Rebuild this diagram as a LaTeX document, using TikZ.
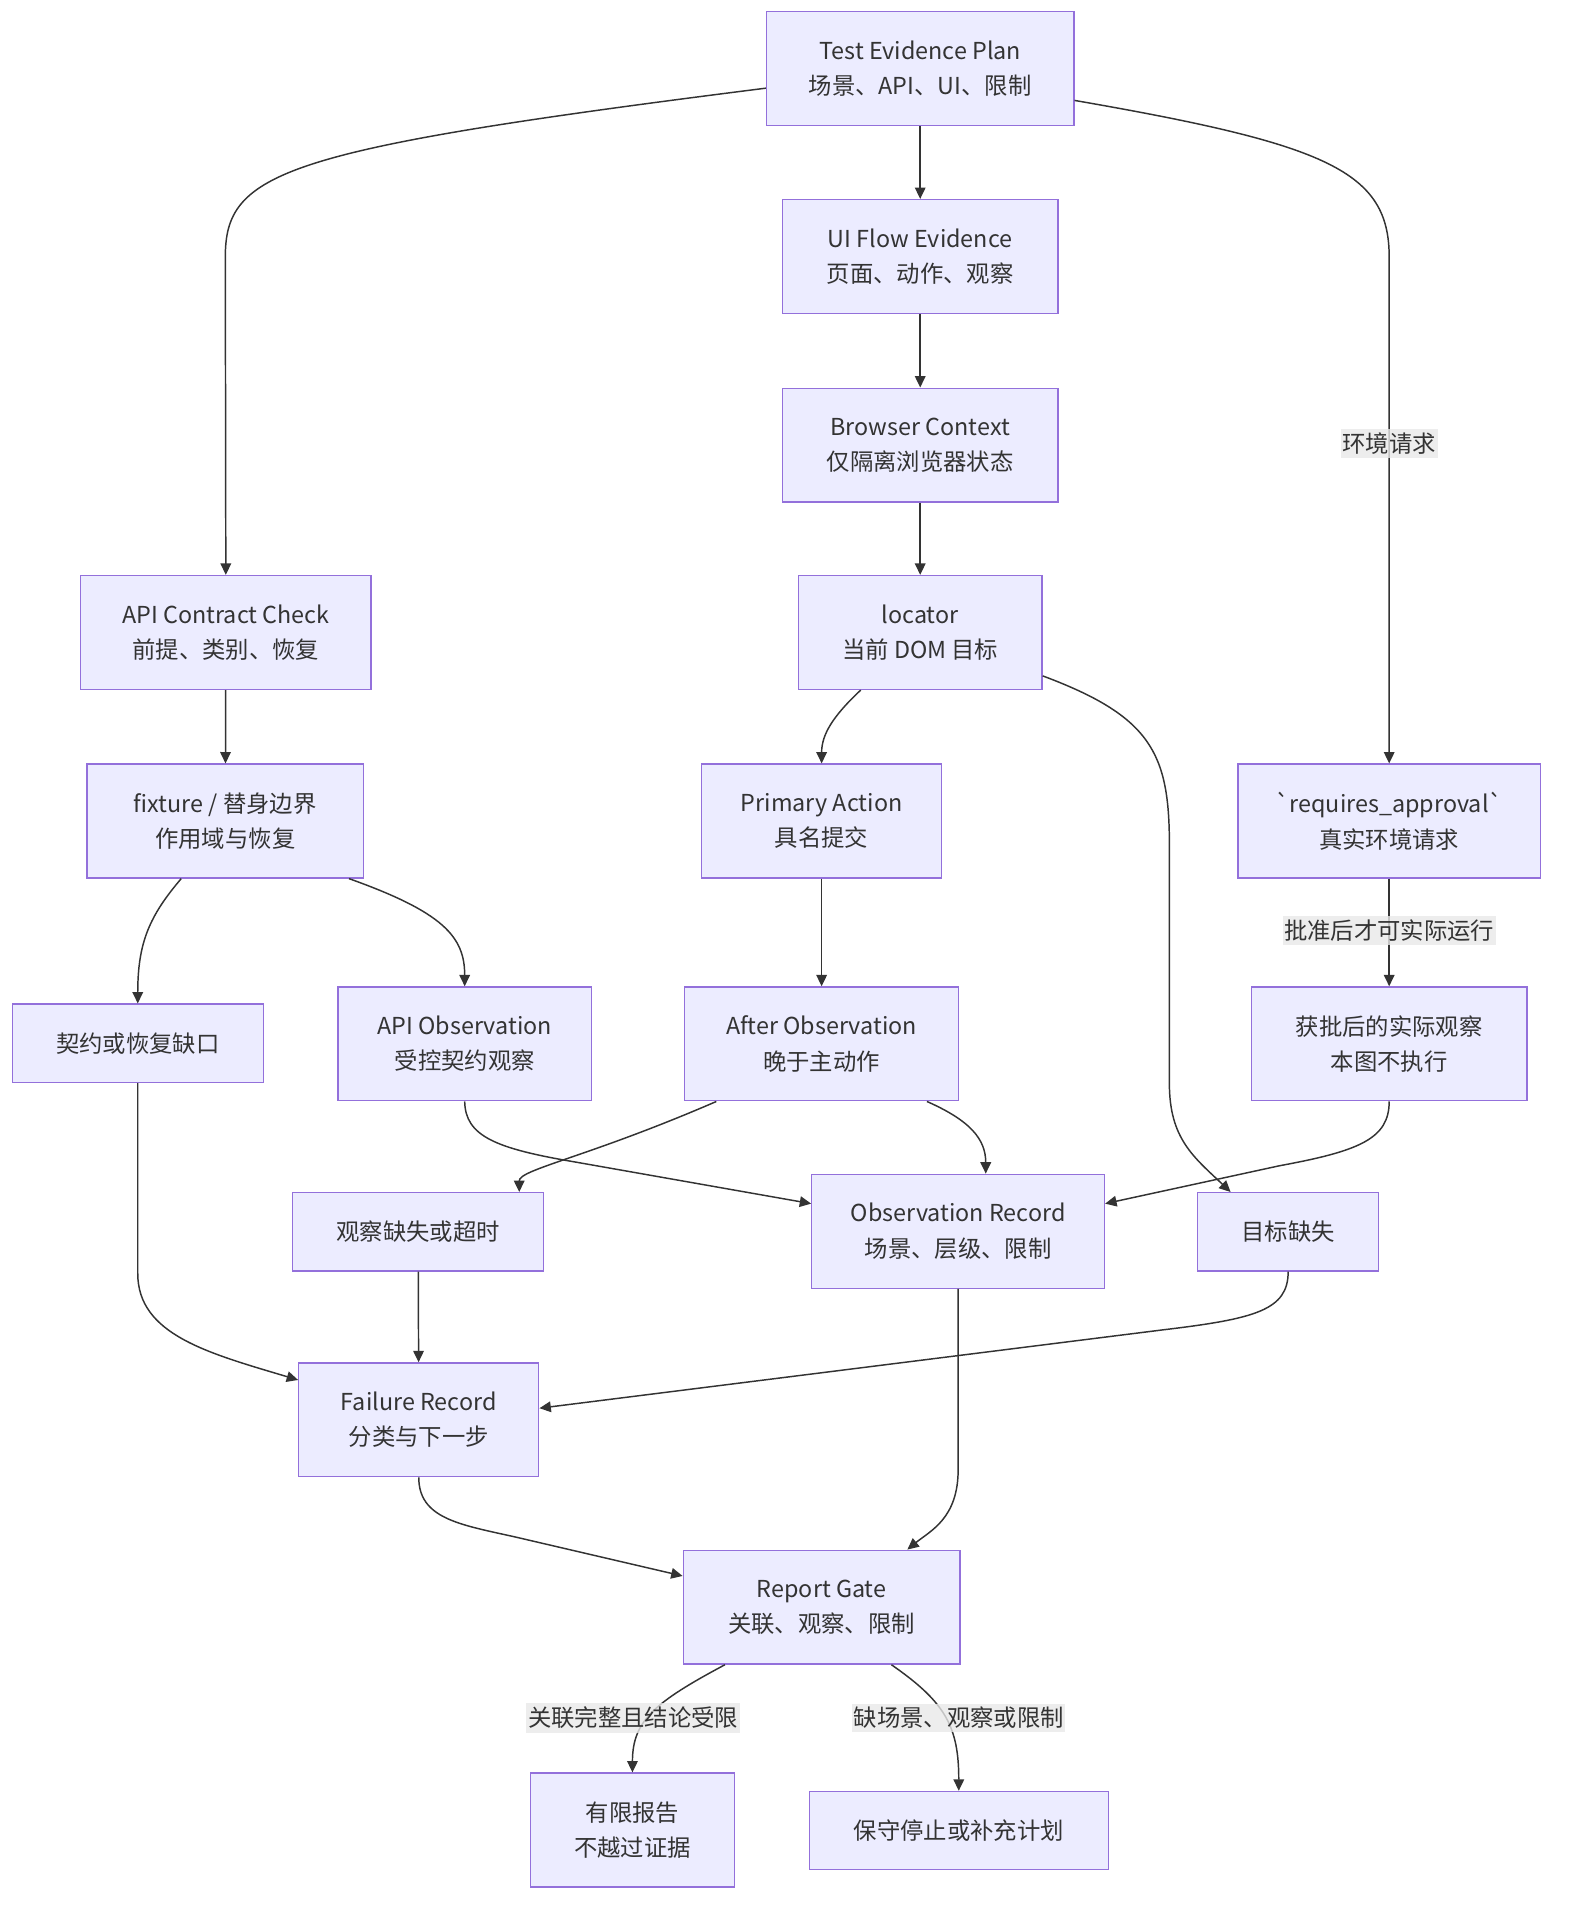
\documentclass[tikz,border=0pt]{standalone}
\usepackage{fontspec}
\setmainfont{Noto Sans CJK SC}
\usetikzlibrary{arrows.meta}
\definecolor{boxfill}{HTML}{ECECFF}
\definecolor{boxline}{HTML}{9370DB}
\definecolor{edgecol}{HTML}{333333}
\definecolor{lblfill}{HTML}{E8E8E8}

\begin{document}
\begin{tikzpicture}[x=0.75pt, y=-0.75pt,
			font=\fontsize{14.3}{21.75}\selectfont, text=edgecol,
			box/.style={draw=boxline, fill=boxfill, line width=0.8pt, align=center, minimum height=69.75pt, inner sep=0pt},
			flat/.style={box, minimum height=48pt},
			link/.style={draw=edgecol, line width=0.9pt, -{Triangle[length=7pt,width=6.5pt]}},
			lbl/.style={fill=lblfill, fill opacity=0.8, text opacity=1, inner xsep=1pt, inner ysep=2.25pt}]
			\useasboundingbox (0,0) rectangle (1281,1568);
			% nodes
			\node[box, minimum width=188.25pt] (plan) at (751.5,56) {Test Evidence Plan\\场景、API、UI、限制};
			\node[box, minimum width=168.75pt] (ui) at (751.5,209.5) {UI Flow Evidence\\页面、动作、观察};
			\node[box, minimum width=168.75pt] (browser) at (751.5,363.5) {Browser Context\\仅隔离浏览器状态};
			\node[box, minimum width=149.25pt] (locator) at (751.5,516.5) {locator\\当前 DOM 目标};
			\node[box, minimum width=177.75pt] (api) at (184.5,516.5) {API Contract Check\\前提、类别、恢复};
			\node[box, minimum width=169.5pt] (fixture) at (184,670.5) {fixture / 替身边界\\作用域与恢复};
			\node[box, minimum width=147pt] (primary) at (671,670.5) {Primary Action\\具名提交};
			\node[box, minimum width=185.25pt] (req) at (1134.5,670.5) {\textasciigrave requires\_approval\textasciigrave\\真实环境请求};
			\node[flat, minimum width=153.75pt] (gap) at (112.5,852) {契约或恢复缺口};
			\node[box, minimum width=155.25pt] (apiobs) at (379.5,852.5) {API Observation\\受控契约观察};
			\node[box, minimum width=168pt] (after) at (671,852.5) {After Observation\\晚于主动作};
			\node[box, minimum width=168.75pt] (approved) at (1134.5,852.5) {获批后的实际观察\\本图不执行};
			\node[flat, minimum width=153.75pt] (obsmiss) at (341.5,1006) {观察缺失或超时};
			\node[box, minimum width=179.25pt] (obsrec) at (782.5,1005.5) {Observation Record\\场景、层级、限制};
			\node[flat, minimum width=111pt] (tgtmiss) at (1052,1006) {目标缺失};
			\node[box, minimum width=147pt] (failure) at (342,1159.5) {Failure Record\\分类与下一步};
			\node[box, minimum width=169.5pt] (report) at (671,1312.5) {Report Gate\\关联、观察、限制};
			\node[box, minimum width=125.25pt] (bounded) at (516.5,1494.5) {有限报告\\不越过证据};
			\node[flat, minimum width=183pt] (stop) at (783,1495) {保守停止或补充计划};
			% edges
			\draw[link] ([yshift=-12pt]plan.west) .. controls (230,122) and (184,140) .. (184,210) -- (api);
			\draw[link] (plan) -- (ui);
			\draw[link] ([yshift=-19.5pt]plan.east) .. controls (1085,118) and (1134.5,140) .. (1134.5,210) -- (req);
			\draw[link] (ui) -- (browser);
			\draw[link] (browser) -- (locator);
			\draw[link] (api) -- (fixture);
			\draw[link] ([xshift=-27pt]fixture.south) .. controls (122,748) and (112.5,770) .. (gap);
			\draw[link] ([xshift=75.75pt]fixture.south) .. controls (362,745) and (379.5,765) .. (apiobs);
			\draw[link] ([xshift=-36.4pt]locator.south) .. controls (680,585) and (671,600) .. (primary);
			\draw[link] ([yshift=-26.6pt]locator.east) .. controls (940,585) and (955,615) .. (955,690) -- (955,885)
				.. controls (955,930) and (975,945) .. ([xshift=-35.25pt]tgtmiss.north);
			\draw[link] (primary) -- (after);
			\draw[link] (req) -- (approved);
			\draw[link] ([xshift=-64.5pt]after.south) .. controls (480,945) and (424,955) .. ([xshift=61.9pt]obsmiss.north);
			\draw[link] ([xshift=64.5pt]after.south) .. controls (792,915) and (805,930) .. ([xshift=16.9pt]obsrec.north);
			\draw[link] (apiobs.south) .. controls (380,928) and (405,938) .. (470,949) -- ([yshift=16.9pt]obsrec.west);
			\draw[link] (approved.south) .. controls (1134.5,930) and (1110,940) .. (1045,952) -- ([yshift=16.9pt]obsrec.east);
			\draw[link] (gap) -- (112.5,1040) .. controls (112.5,1090) and (170,1105) .. ([yshift=24.4pt]failure.west);
			\draw[link] (obsmiss) -- (failure);
			\draw[link] (tgtmiss.south) .. controls (1052,1070) and (1025,1077) .. (950,1086) -- ([yshift=7.1pt]failure.east);
			\draw[link] (obsrec.south) -- (782.5,1200) .. controls (782.5,1240) and (760,1250) .. ([xshift=52.5pt]report.north);
			\draw[link] (failure.south) .. controls (342,1240) and (375,1245) .. (420,1255) -- ([yshift=19.1pt]report.west);
			\draw[link] ([xshift=-59.25pt]report.south) .. controls (535,1390) and (516.5,1405) .. (bounded);
			\draw[link] ([xshift=42.75pt]report.south) .. controls (772,1390) and (783,1410) .. (stop);
			% edge labels
			\node[lbl] (lenv) at (1134.5,362) {环境请求};
			\node[lbl] (lrun) at (1134.5,760) {批准后才可实际运行};
			\node[lbl] (lok) at (517,1403) {关联完整且结论受限};
			\node[lbl] (lmiss) at (783,1403) {缺场景、观察或限制};
		\end{tikzpicture}
\end{document}
